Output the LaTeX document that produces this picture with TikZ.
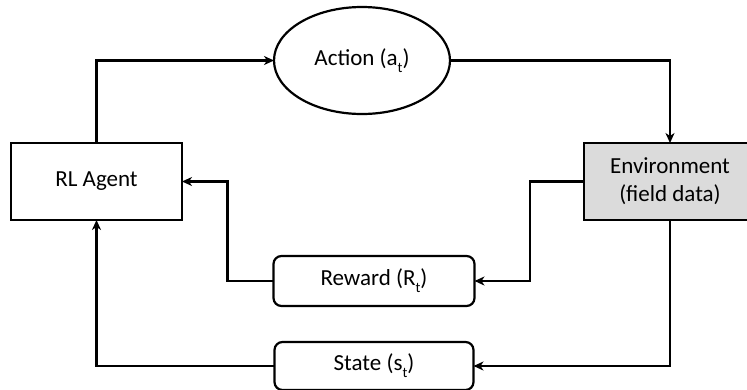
\documentclass[tikz,border=0pt]{standalone}
\usepackage{fontspec}
\setmainfont{Carlito}
\usetikzlibrary{shapes.geometric,arrows.meta}
\newcommand{\subt}[1]{\raisebox{-0.3em}{\fontsize{14.5}{14.5}\selectfont #1}}
\begin{document}
\begin{tikzpicture}[x=1pt,y=-1pt,
  base/.style={draw=black,line width=2.2pt,inner sep=0pt,outer sep=0pt,font=\fontsize{23}{28}\selectfont,align=center},
  boxnode/.style={base,rectangle},
  roundnode/.style={base,rectangle,rounded corners=8pt},
  ovalnode/.style={base,ellipse},
  arr/.style={line width=2.2pt,-{Stealth[length=10pt,width=9pt,inset=3pt]}}]
\useasboundingbox (0,0) rectangle (747,389);
\begin{scope}
\clip (0,0) rectangle (747,389);
\node[boxnode,minimum width=171pt,minimum height=77pt] (agent) at (96.5,181.5) {RL Agent};
\node[ovalnode,minimum width=176pt,minimum height=107pt] (action) at (362,60.5) {Action (a\subt{t})};
\node[boxnode,fill=black!14,minimum width=172pt,minimum height=77pt] (env) at (670,181.5) {Environment\\(field data)};
\node[roundnode,minimum width=201pt,minimum height=50pt] (reward) at (374,281) {Reward (R\subt{t})};
\node[roundnode,minimum width=199pt,minimum height=48pt] (state) at (374,366) {State (s\subt{t})};
\draw[arr] (agent.north) |- (action.west);
\draw[arr] (action.east) -| (env.north);
\draw[arr] (env.west) -- ++(-54,0) |- (reward.east);
\draw[arr] (reward.west) -- ++(-46,0) |- (agent.east);
\draw[arr] (env.south) |- (state.east);
\draw[arr] (state.west) -| (agent.south);
\end{scope}
\end{tikzpicture}
\end{document}
